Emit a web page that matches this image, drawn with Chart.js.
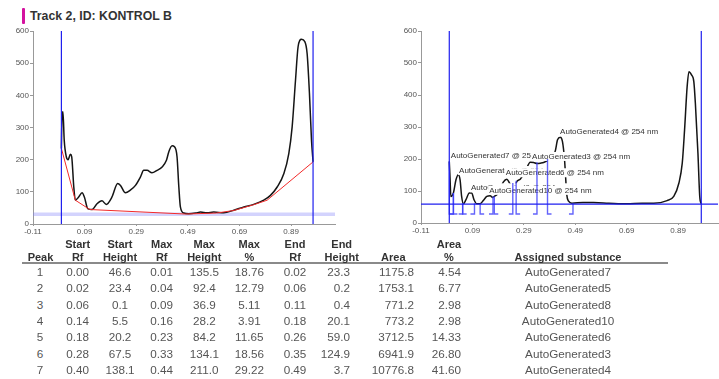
<!DOCTYPE html>
<html>
<head>
<meta charset="utf-8">
<script src="https://cdn.jsdelivr.net/npm/chart.js@4.4.0/dist/chart.umd.min.js"></script>
<style>
  html, body { margin: 0; padding: 0; background: #fff; }
  body { width: 719px; height: 379px; position: relative; overflow: hidden; font-family: "Liberation Sans", Arial, sans-serif; }
  .bar { position: absolute; left: 22px; top: 8px; width: 3px; height: 16px; background: #d4139f; border-radius: 1px; }
  .title { position: absolute; left: 30px; top: 8px; font-size: 12.3px; font-weight: bold; color: #333; line-height: 16px; }
  canvas { position: absolute; }
  .cell { position: absolute; white-space: nowrap; line-height: 12px; }
  .hd { font-weight: bold; font-size: 11px; color: #333; }
  .td { font-size: 11.7px; color: #555; }
  .rule { position: absolute; left: 22px; top: 262px; width: 646px; height: 2px; background: #8a8a8a; }
</style>
</head>
<body>
<div class="bar"></div>
<div class="title">Track 2, ID: KONTROL B</div>
<canvas id="leftChart" width="360" height="222" style="left:0;top:20px;width:360px;height:222px;"></canvas>
<canvas id="rightChart" width="339" height="222" style="left:380px;top:20px;width:339px;height:222px;"></canvas>
<div class="rule"></div>
<div id="table"></div>
<script>
// ---- axis ticks ----
const xTicks = [-0.11, 0.09, 0.29, 0.49, 0.69, 0.89];
const yTicks = [0, 100, 200, 300, 400, 500, 600];

// ---- left densitogram (raw track) ----
const leftRf = [0.0, 0.002, 0.006, 0.011, 0.019, 0.026, 0.035, 0.04, 0.048, 0.054, 0.067, 0.08, 0.089, 0.102, 0.119, 0.138, 0.157, 0.174, 0.196, 0.218, 0.229, 0.248, 0.267, 0.287, 0.306, 0.319, 0.332, 0.351, 0.371, 0.39, 0.407, 0.416, 0.429, 0.438, 0.448, 0.455, 0.461, 0.474, 0.493, 0.52, 0.539, 0.564, 0.59, 0.629, 0.668, 0.707, 0.745, 0.784, 0.81, 0.836, 0.862, 0.881, 0.894, 0.907, 0.917, 0.93, 0.943, 0.952, 0.961, 0.969, 0.975];
const leftVal = [235, 323, 349, 260, 209, 200, 217, 209, 115, 74, 84, 97, 84, 48, 45, 63, 72, 61, 84, 126, 120, 97, 105, 120, 146, 167, 167, 159, 167, 177, 198, 224, 243, 240, 209, 115, 53, 34, 32, 34, 37, 35, 37, 35, 43, 53, 61, 74, 89, 115, 157, 219, 302, 447, 551, 574, 567, 530, 406, 260, 193];
// red baseline
const baseRf = [0.0, 0.054, 0.11, 0.48, 0.6, 0.668, 0.745, 0.797, 0.975];
const baseVal = [235, 74, 45, 31, 34, 42, 60, 74, 193];
const leftStartRf = 0.0;
const leftFrontRf = 0.975;
const leftBandVal = 30;

// ---- right densitogram (integrated) ----
const rightRf = [0.0, 0.003, 0.006, 0.016, 0.026, 0.035, 0.042, 0.048, 0.055, 0.065, 0.078, 0.087, 0.096, 0.107, 0.12, 0.133, 0.146, 0.159, 0.169, 0.178, 0.185, 0.2, 0.21, 0.224, 0.234, 0.25, 0.263, 0.276, 0.295, 0.315, 0.328, 0.341, 0.354, 0.367, 0.39, 0.412, 0.421, 0.432, 0.44, 0.448, 0.457, 0.464, 0.477, 0.52, 0.561, 0.62, 0.691, 0.75, 0.795, 0.847, 0.873, 0.893, 0.906, 0.915, 0.925, 0.932, 0.942, 0.951, 0.957, 0.967, 0.974, 0.98];
const rightVal = [192, 140, 83, 94, 135, 151, 135, 83, 60, 73, 94, 94, 73, 60, 60, 71, 83, 85, 80, 85, 88, 110, 128, 137, 125, 105, 130, 137, 160, 190, 189, 186, 187, 189, 200, 224, 260, 268, 255, 200, 88, 68, 62, 64, 64, 62, 60, 62, 62, 70, 83, 125, 187, 291, 426, 473, 463, 442, 374, 218, 83, 59];
const rightStartRf = 0.0;
const rightFrontRf = 0.98;
const rightBaseVal = 59;
const markerFootVal = 28;

// peak borders on the right plot (axis units)
const peakStartX = [0.0, 0.016, 0.052, 0.12, 0.175, 0.26, 0.382];
const peakEndX = [0.016, 0.052, 0.098, 0.17, 0.247, 0.341, 0.481];
const peakStartTop = [192, 94, 62, 60, 83, 132, 200];
const peakEndTop = [94, 62, 62, 83, 125, 190, 62];

// peak labels (drawn in this order, later ones cover earlier ones)
const labelText = ['AutoGenerated7 @ 254 nm', 'AutoGenerated5 @ 254 nm', 'AutoGenerated8 @ 254 nm', 'AutoGenerated10 @ 254 nm', 'AutoGenerated6 @ 254 nm', 'AutoGenerated3 @ 254 nm', 'AutoGenerated4 @ 254 nm'];
const labelRf = [0.006, 0.038, 0.084, 0.155, 0.22, 0.322, 0.431];
const labelVal = [210, 164, 110, 102, 157, 208, 285];

// ---- peak table ----
const peakNo = [1, 2, 3, 4, 5, 6, 7];
const startRf = [0.00, 0.02, 0.06, 0.14, 0.18, 0.28, 0.40];
const startHeight = [46.6, 23.4, 0.1, 5.5, 20.2, 67.5, 138.1];
const maxRf = [0.01, 0.04, 0.09, 0.16, 0.23, 0.33, 0.44];
const maxHeight = [135.5, 92.4, 36.9, 28.2, 84.2, 134.1, 211.0];
const maxPct = [18.76, 12.79, 5.11, 3.91, 11.65, 18.56, 29.22];
const endRf = [0.02, 0.06, 0.11, 0.18, 0.26, 0.35, 0.49];
const endHeight = [23.3, 0.2, 0.4, 20.1, 59.0, 124.9, 3.7];
const area = [1175.8, 1753.1, 771.2, 773.2, 3712.5, 6941.9, 10776.8];
const areaPct = [4.54, 6.77, 2.98, 2.98, 14.33, 26.80, 41.60];
const substance = ['AutoGenerated7', 'AutoGenerated5', 'AutoGenerated8', 'AutoGenerated10', 'AutoGenerated6', 'AutoGenerated3', 'AutoGenerated4'];
const headTop = ['', 'Start', 'Start', 'Max', 'Max', 'Max', 'End', 'End', '', 'Area', ''];
const headBottom = ['Peak', 'Rf', 'Height', 'Rf', 'Height', '%', 'Rf', 'Height', 'Area', '%', 'Assigned substance'];

const FONT = '"Liberation Sans", Arial, sans-serif';
const pts = (xs, ys) => xs.map((x, i) => ({ x: x, y: ys[i] }));

function makeScales(xMax, yWidth, xHeight) {
  return {
    x: {
      type: 'linear', min: -0.11, max: xMax,
      afterBuildTicks: s => { s.ticks = xTicks.map(v => ({ value: v })); },
      afterFit: s => { s.height = xHeight; },
      grid: { drawOnChartArea: false, tickLength: 2, color: '#999' },
      border: { color: '#999' },
      ticks: { color: '#555', font: { size: 8, family: FONT }, padding: 1, maxRotation: 0, autoSkip: false, callback: v => v.toFixed(2) }
    },
    y: {
      min: 0, max: 600,
      afterBuildTicks: s => { s.ticks = yTicks.map(v => ({ value: v })); },
      afterFit: s => { s.width = yWidth; },
      grid: { drawOnChartArea: false, tickLength: 3, color: '#999' },
      border: { color: '#999' },
      ticks: { color: '#555', font: { size: 8, family: FONT }, padding: 1 }
    }
  };
}

const commonOpts = {
  responsive: false,
  animation: false,
  events: [],
  parsing: false,
  plugins: { legend: { display: false }, tooltip: { enabled: false } },
  elements: { point: { radius: 0 } }
};

// left chart
new Chart(document.getElementById('leftChart'), {
  type: 'line',
  data: {
    datasets: [
      { data: pts([leftStartRf, leftStartRf], [0, 600]), borderColor: '#1f1fef', borderWidth: 1.2 },
      { data: pts([leftFrontRf, leftFrontRf], [0, 600]), borderColor: '#1f1fef', borderWidth: 1.2 },
      { data: pts(baseRf, baseVal), borderColor: '#f22a2a', borderWidth: 1 },
      { data: pts(leftRf, leftVal), borderColor: '#151515', borderWidth: 1.5, cubicInterpolationMode: 'monotone' },
      { data: pts([-0.11, 1.06], [leftBandVal, leftBandVal]), borderColor: 'rgba(130,130,250,0.35)', borderWidth: 3.5 }
    ]
  },
  options: Object.assign({}, commonOpts, {
    layout: { padding: { top: 11, right: 25, left: 0, bottom: 0 } },
    scales: makeScales(1.06, 33, 18)
  })
});

// right chart: labels and peak borders are painted right after the curve
const peakPlugin = {
  id: 'peakMarks',
  afterDatasetDraw(chart, args) {
    if (args.index !== chart.data.datasets.length - 1) return;
    const { ctx, scales: { x, y } } = chart;
    ctx.save();
    ctx.font = '8px ' + FONT;
    ctx.textBaseline = 'middle';
    labelText.forEach((t, i) => {
      const px = x.getPixelForValue(labelRf[i]);
      const py = y.getPixelForValue(labelVal[i]);
      const w = ctx.measureText(t).width;
      ctx.fillStyle = '#fff';
      ctx.fillRect(px - 1, py - 4.5, w + 2, 9);
      ctx.fillStyle = '#333';
      ctx.fillText(t, px, py);
    });
    ctx.strokeStyle = 'rgba(60,60,250,0.8)';
    ctx.lineWidth = 1.4;
    const yb = y.getPixelForValue(markerFootVal);
    const mark = (rf, top, dir) => {
      const px = x.getPixelForValue(rf);
      ctx.beginPath();
      ctx.moveTo(px + dir * 4, yb);
      ctx.lineTo(px, yb);
      ctx.lineTo(px, y.getPixelForValue(top));
      ctx.stroke();
    };
    peakStartX.forEach((rf, i) => mark(rf, peakStartTop[i], 1));
    peakEndX.forEach((rf, i) => mark(rf, peakEndTop[i], -1));
    ctx.restore();
  }
};

new Chart(document.getElementById('rightChart'), {
  type: 'line',
  data: {
    datasets: [
      { data: pts([-0.11, 1.045], [rightBaseVal, rightBaseVal]), borderColor: '#1f1fef', borderWidth: 1.2 },
      { data: pts([rightStartRf, rightStartRf], [0, 600]), borderColor: '#1f1fef', borderWidth: 1.2 },
      { data: pts([rightFrontRf, rightFrontRf], [0, 600]), borderColor: '#1f1fef', borderWidth: 1.2 },
      { data: pts(rightRf, rightVal), borderColor: '#151515', borderWidth: 1.5, cubicInterpolationMode: 'monotone' }
    ]
  },
  options: Object.assign({}, commonOpts, {
    layout: { padding: { top: 11, right: 1, left: 0, bottom: 0 } },
    scales: makeScales(1.045, 41, 19)
  }),
  plugins: [peakPlugin]
});

// table
const headX = [40.5, 77.7, 120, 161.7, 204.3, 249.3, 295, 341.7, 393.3, 449, 568];
const colX = [40, 77.7, 120, 161.7, 204.3, 249.3, 295, 350, 414, 461, 568];
const colAlign = ['c', 'c', 'c', 'c', 'c', 'c', 'c', 'r', 'r', 'r', 'c'];
const table = document.getElementById('table');
function cell(text, x, yc, align, cls) {
  const d = document.createElement('div');
  d.className = 'cell ' + cls;
  d.textContent = text;
  d.style.left = x + 'px';
  d.style.top = (yc - 6) + 'px';
  d.style.transform = align === 'r' ? 'translateX(-100%)' : 'translateX(-50%)';
  table.appendChild(d);
}
headTop.forEach((t, i) => { if (t) cell(t, headX[i], 244, 'c', 'hd'); });
headBottom.forEach((t, i) => cell(t, headX[i], 256.5, 'c', 'hd'));
peakNo.forEach((p, r) => {
  const row = [
    String(p), startRf[r].toFixed(2), startHeight[r].toFixed(1), maxRf[r].toFixed(2),
    maxHeight[r].toFixed(1), maxPct[r].toFixed(2), endRf[r].toFixed(2), endHeight[r].toFixed(1),
    area[r].toFixed(1), areaPct[r].toFixed(2), substance[r]
  ];
  const yc = 272 + r * 16.3;
  row.forEach((t, i) => cell(t, colX[i], yc, colAlign[i], 'td'));
});
</script>
</body>
</html>
